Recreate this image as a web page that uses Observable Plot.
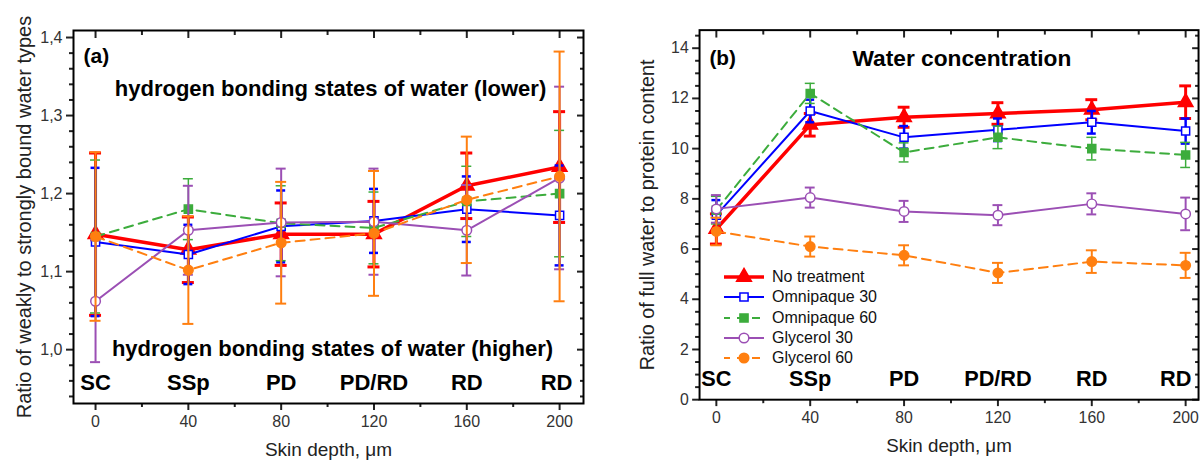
<!DOCTYPE html>
<html><head><meta charset="utf-8">
<script src="https://cdn.jsdelivr.net/npm/d3@7"></script>
<script src="https://cdn.jsdelivr.net/npm/@observablehq/plot@0.6"></script>
<style>
html,body{margin:0;padding:0;background:#fff;overflow:hidden;width:1203px;height:461px;}
#wrap{position:relative;width:1203px;height:461px;overflow:hidden;font-family:"Liberation Sans",Arial,sans-serif;}
#pa{position:absolute;left:0;top:0;}
#pb{position:absolute;left:620px;top:0;}
#legend{position:absolute;left:720px;top:267px;font-size:16px;color:#111;}
.row{display:flex;align-items:center;height:20.25px;}
.row span{margin-left:4px;}
</style></head>
<body><div id="wrap"><div id="pa"></div><div id="pb"></div><div id="legend"></div></div>
<script>
// ---------- data ----------
const depth = [0, 40, 80, 120, 160, 200];
const seriesNames = ["No treatment", "Omnipaque 30", "Omnipaque 60", "Glycerol 30", "Glycerol 60"];
const stageLabels = ["SC", "SSp", "PD", "PD/RD", "RD", "RD"];

// Panel (a): ratio of weakly to strongly bound water types
const aNoTreatment = [1.148, 1.128, 1.148, 1.148, 1.210, 1.234];
const aNoTreatmentErr = [0.104, 0.042, 0.040, 0.042, 0.042, 0.071];
const aOmni30 = [1.138, 1.122, 1.158, 1.165, 1.180, 1.172];
const aOmni30Err = [0.095, 0.038, 0.046, 0.041, 0.042, 0.064];
const aOmni60 = [1.145, 1.180, 1.162, 1.156, 1.190, 1.200];
const aOmni60Err = [0.098, 0.039, 0.048, 0.046, 0.045, 0.081];
const aGly30 = [1.062, 1.153, 1.163, 1.164, 1.153, 1.220];
const aGly30Err = [0.078, 0.057, 0.069, 0.068, 0.058, 0.117];
const aGly60 = [1.145, 1.102, 1.137, 1.149, 1.192, 1.222];
const aGly60Err = [0.108, 0.069, 0.078, 0.080, 0.081, 0.160];

// Panel (b): ratio of full water to protein content
const bNoTreatment = [6.80, 10.95, 11.25, 11.40, 11.55, 11.85];
const bNoTreatmentErr = [0.60, 0.45, 0.40, 0.43, 0.40, 0.65];
const bOmni30 = [7.35, 11.50, 10.45, 10.75, 11.05, 10.70];
const bOmni30Err = [0.60, 0.45, 0.45, 0.45, 0.45, 0.50];
const bOmni60 = [7.55, 12.20, 9.85, 10.45, 10.00, 9.75];
const bOmni60Err = [0.55, 0.40, 0.38, 0.45, 0.45, 0.50];
const bGly30 = [7.60, 8.05, 7.50, 7.35, 7.80, 7.40];
const bGly30Err = [0.55, 0.40, 0.42, 0.40, 0.42, 0.65];
const bGly60 = [6.70, 6.10, 5.75, 5.05, 5.50, 5.35];
const bGly60Err = [0.55, 0.40, 0.40, 0.40, 0.45, 0.50];

const aTicksMajor = [1.0, 1.1, 1.2, 1.3, 1.4];
const bTicksMajor = [0, 2, 4, 6, 8, 10, 12, 14];
const xTicksMajor = [0, 40, 80, 120, 160, 200];
const xTicksMinor = [20, 60, 100, 140, 180];

// ---------- styles ----------
const styles = [
  {name: "No treatment", color: "#ff0000", lw: 3.5, ew: 3, dash: null, symbol: "triangle", fill: "#ff0000", r: 5.5, cap: 6},
  {name: "Omnipaque 30", color: "#0000ff", lw: 2, ew: 2.5, dash: null, symbol: "square", fill: "white", r: 4.6, cap: 4.5},
  {name: "Omnipaque 60", color: "#3cac3c", lw: 2, ew: 1.5, dash: "9,6", symbol: "square", fill: "#3cac3c", r: 4.6, cap: 5},
  {name: "Glycerol 30", color: "#9b4fb4", lw: 2, ew: 2, dash: null, symbol: "circle", fill: "white", r: 4.8, cap: 5},
  {name: "Glycerol 60", color: "#ff7f10", lw: 2, ew: 2, dash: "9,6", symbol: "circle", fill: "#ff7f10", r: 4.8, cap: 5.5}
];

function rows(vals, errs) {
  const out = [];
  seriesNames.forEach((s, i) => depth.forEach((x, j) => out.push({s, x, y: vals[i][j], e: errs[i][j]})));
  return out;
}
const aRows = rows([aNoTreatment, aOmni30, aOmni60, aGly30, aGly60], [aNoTreatmentErr, aOmni30Err, aOmni60Err, aGly30Err, aGly60Err]);
const bRows = rows([bNoTreatment, bOmni30, bOmni60, bGly30, bGly60], [bNoTreatmentErr, bOmni30Err, bOmni60Err, bGly30Err, bGly60Err]);

function range(a, b, step) { const o = []; for (let v = a; v <= b + 1e-9; v += step) o.push(+v.toFixed(4)); return o; }

function panel(cfg) {
  const pxPerUnit = (cfg.width - cfg.ml - cfg.mr) / (cfg.xdom[1] - cfg.xdom[0]);
  const marks = [];
  // series
  for (const st of styles) {
    const d = cfg.rows.filter(r => r.s === st.name);
    const capU = st.cap / pxPerUnit;
    marks.push(Plot.line(d, {x: "x", y: "y", stroke: st.color, strokeWidth: st.lw, strokeDasharray: st.dash}));
    marks.push(Plot.ruleX(d, {x: "x", y1: r => r.y - r.e, y2: r => r.y + r.e, stroke: st.color, strokeWidth: st.ew}));
    marks.push(Plot.ruleY(d, {y: r => r.y + r.e, x1: r => r.x - capU, x2: r => r.x + capU, stroke: st.color, strokeWidth: st.ew}));
    marks.push(Plot.ruleY(d, {y: r => r.y - r.e, x1: r => r.x - capU, x2: r => r.x + capU, stroke: st.color, strokeWidth: st.ew}));
    marks.push(Plot.dot(d, {x: "x", y: "y", symbol: st.symbol, r: st.r, fill: st.fill, stroke: st.color, strokeWidth: 1.5}));
  }
  // axes
  marks.push(Plot.axisY(cfg.yMajor, {anchor: "left", tickSize: 7, tickPadding: 4, tickFormat: cfg.fmt, fontSize: 16, strokeWidth: 2, label: null, fill: "#333"}));
  marks.push(Plot.axisY(cfg.yMinor, {anchor: "left", tickSize: 4, tickFormat: () => "", strokeWidth: 2, label: null}));
  marks.push(Plot.axisY(cfg.yMajor, {anchor: "right", tickSize: 7, dx: -7, tickFormat: () => "", strokeWidth: 2, label: null}));
  marks.push(Plot.axisY(cfg.yMinor, {anchor: "right", tickSize: 4, dx: -4, tickFormat: () => "", strokeWidth: 2, label: null}));
  marks.push(Plot.axisX(xTicksMajor, {anchor: "bottom", tickSize: 7, tickPadding: 5, fontSize: 16, strokeWidth: 2, label: null, fill: "#333"}));
  marks.push(Plot.axisX(xTicksMinor, {anchor: "bottom", tickSize: 4, tickFormat: () => "", strokeWidth: 2, label: null}));
  marks.push(Plot.axisX(xTicksMajor, {anchor: "top", tickSize: 7, dy: 7, tickFormat: () => "", strokeWidth: 2, label: null}));
  marks.push(Plot.axisX(xTicksMinor, {anchor: "top", tickSize: 4, dy: 4, tickFormat: () => "", strokeWidth: 2, label: null}));
  marks.push(Plot.frame({stroke: "black", strokeWidth: 2}));
  // axis labels
  marks.push(Plot.text([cfg.ylabel], {frameAnchor: "left", dx: cfg.ylabelDx, rotate: -90, textAnchor: "middle", lineAnchor: "middle", fontSize: 20, fill: "#222"}));
  marks.push(Plot.text(["Skin depth, \u03bcm"], {frameAnchor: "bottom", dy: 39, lineAnchor: "top", fontSize: 19, fill: "#222"}));
  // stage labels
  marks.push(Plot.text(stageLabels.slice(0, 5), {x: depth.slice(0, 5), frameAnchor: "bottom", dy: -29, lineAnchor: "top", fontSize: 22, fontWeight: "bold", fill: "black"}));
  marks.push(Plot.text(stageLabels.slice(5), {x: depth.slice(5), frameAnchor: "bottom", dx: cfg.lastDx, dy: -29, lineAnchor: "top", fontSize: 22, fontWeight: "bold", fill: "black"}));
  marks.push(...cfg.extra);
  return Plot.plot({
    width: cfg.width, height: 461,
    marginLeft: cfg.ml, marginRight: cfg.mr, marginTop: 30, marginBottom: cfg.mb,
    x: {domain: cfg.xdom},
    y: {domain: cfg.ydom},
    style: {fontFamily: "'Liberation Sans', Arial, sans-serif", background: "transparent", color: "#222", overflow: "visible"},
    marks
  });
}

const fmtComma = d => d.toFixed(1).replace(".", ",");

document.getElementById("pa").appendChild(panel({
  rows: aRows, width: 620, ml: 73, mr: 37, mb: 58,
  xdom: [-9.5, 210.3], ydom: [0.931, 1.409],
  yMajor: aTicksMajor, yMinor: range(0.94, 1.40, 0.02).filter(v => Math.abs(v * 10 - Math.round(v * 10)) > 1e-6),
  fmt: fmtComma,
  ylabel: "Ratio of weakly to strongly bound water types", ylabelDx: -49, lastDx: -3,
  extra: [
    Plot.text(["(a)"], {frameAnchor: "top-left", dx: 10, dy: 18, lineAnchor: "top", fontSize: 21, fontWeight: "bold", fill: "black"}),
    Plot.text(["hydrogen bonding states of water (lower)"], {frameAnchor: "top", dx: 2, dy: 50, lineAnchor: "top", fontSize: 22, fontWeight: "bold", fill: "black"}),
    Plot.text(["hydrogen bonding states of water (higher)"], {frameAnchor: "top", dx: 4, dy: 310, lineAnchor: "top", fontSize: 22, fontWeight: "bold", fill: "black"})
  ]
}));

document.getElementById("pb").appendChild(panel({
  rows: bRows, width: 590, ml: 80, mr: 5, mb: 57,
  xdom: [-7.16, 205.5], ydom: [0, 14.72],
  yMajor: bTicksMajor, yMinor: range(0.5, 14.5, 0.5).filter(v => v % 2 !== 0),
  fmt: d => String(d),
  ylabel: "Ratio of full water to protein content", ylabelDx: -53, lastDx: -10,
  extra: [
    Plot.text(["(b)"], {frameAnchor: "top-left", dx: 10, dy: 20, lineAnchor: "top", fontSize: 21, fontWeight: "bold", fill: "black"}),
    Plot.text(["Water concentration"], {frameAnchor: "top", dx: 13, dy: 20, lineAnchor: "top", fontSize: 23, fontWeight: "bold", fill: "black"})
  ]
}));

// ---------- legend ----------
const legend = d3.select("#legend");
const symMap = {triangle: d3.symbolTriangle, square: d3.symbolSquare, circle: d3.symbolCircle};
for (const st of styles) {
  const row = legend.append("div").attr("class", "row");
  const svg = row.append("svg").attr("width", 48).attr("height", 20);
  svg.append("line").attr("x1", 4).attr("x2", 44).attr("y1", 10).attr("y2", 10)
    .attr("stroke", st.color).attr("stroke-width", st.lw)
    .attr("stroke-dasharray", st.dash ? "8,7" : null).attr("stroke-dashoffset", st.dash ? 2 : null);
  svg.append("path").attr("transform", "translate(24,10)")
    .attr("d", d3.symbol(symMap[st.symbol], Math.PI * st.r * st.r)())
    .attr("fill", st.fill).attr("stroke", st.color).attr("stroke-width", 1.5);
  row.append("span").text(st.name);
}
</script>
</body></html>
